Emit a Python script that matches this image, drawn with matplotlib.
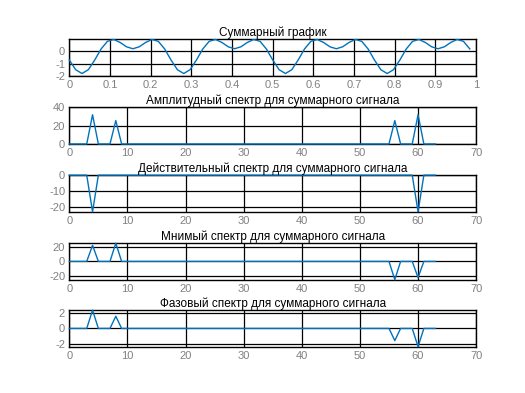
import numpy as np
import matplotlib
matplotlib.use("Agg")
import matplotlib.pyplot as plt

plt.rcParams['font.family'] = ['Liberation Sans', 'DejaVu Sans']
plt.rcParams['axes.unicode_minus'] = False

# time axis: 64 samples over one second
t = np.arange(64) / 64
signal = [
    -0.7071, -1.4896, -1.8, -1.4896, -0.7071, 0.1830, 0.8, 0.9484,
    0.7071, 0.3582, 0.2, 0.3582, 0.7071, 0.9484, 0.8, 0.1830,
    -0.7071, -1.4896, -1.8, -1.4896, -0.7071, 0.1830, 0.8, 0.9484,
    0.7071, 0.3582, 0.2, 0.3582, 0.7071, 0.9484, 0.8, 0.1830,
    -0.7071, -1.4896, -1.8, -1.4896, -0.7071, 0.1830, 0.8, 0.9484,
    0.7071, 0.3582, 0.2, 0.3582, 0.7071, 0.9484, 0.8, 0.1830,
    -0.7071, -1.4896, -1.8, -1.4896, -0.7071, 0.1830, 0.8, 0.9484,
    0.7071, 0.3582, 0.2, 0.3582, 0.7071, 0.9484, 0.8, 0.1830,
]

k = np.arange(64)
amp = [
    0, 0, 0, 0, 32, 0, 0, 0, 25.6, 0, 0, 0, 0, 0, 0, 0,
    0, 0, 0, 0, 0, 0, 0, 0, 0, 0, 0, 0, 0, 0, 0, 0,
    0, 0, 0, 0, 0, 0, 0, 0, 0, 0, 0, 0, 0, 0, 0, 0,
    0, 0, 0, 0, 0, 0, 0, 0, 25.6, 0, 0, 0, 32, 0, 0, 0,
]
re = [
    0, 0, 0, 0, -22.63, 0, 0, 0, 0, 0, 0, 0, 0, 0, 0, 0,
    0, 0, 0, 0, 0, 0, 0, 0, 0, 0, 0, 0, 0, 0, 0, 0,
    0, 0, 0, 0, 0, 0, 0, 0, 0, 0, 0, 0, 0, 0, 0, 0,
    0, 0, 0, 0, 0, 0, 0, 0, 0, 0, 0, 0, -22.63, 0, 0, 0,
]
im = [
    0, 0, 0, 0, 22.63, 0, 0, 0, 25.6, 0, 0, 0, 0, 0, 0, 0,
    0, 0, 0, 0, 0, 0, 0, 0, 0, 0, 0, 0, 0, 0, 0, 0,
    0, 0, 0, 0, 0, 0, 0, 0, 0, 0, 0, 0, 0, 0, 0, 0,
    0, 0, 0, 0, 0, 0, 0, 0, -25.6, 0, 0, 0, -22.63, 0, 0, 0,
]
phase = [
    0, 0, 0, 0, 2.356, 0, 0, 0, 1.571, 0, 0, 0, 0, 0, 0, 0,
    0, 0, 0, 0, 0, 0, 0, 0, 0, 0, 0, 0, 0, 0, 0, 0,
    0, 0, 0, 0, 0, 0, 0, 0, 0, 0, 0, 0, 0, 0, 0, 0,
    0, 0, 0, 0, 0, 0, 0, 0, -1.571, 0, 0, 0, -2.356, 0, 0, 0,
]

titles = [
    "Суммарный график",
    "Амплитудный спектр для суммарного сигнала",
    "Действительный спектр для суммарного сигнала",
    "Мнимый спектр для суммарного сигнала",
    "Фазовый спектр для суммарного сигнала",
]

fig = plt.figure(figsize=(5.25, 3.93), dpi=100)
bottoms = [0.8066, 0.6336, 0.4613, 0.2883, 0.1178]

panels = [
    (t, signal, (0, 1), (-2, 0.95), [-2, -1, 0], np.arange(0, 1.01, 0.1)),
    (k, amp, (0, 70), (0, 40), [0, 20, 40], np.arange(0, 71, 10)),
    (k, re, (0, 70), (-22.63, 0), [-20, -10, 0], np.arange(0, 71, 10)),
    (k, im, (0, 70), (-25.6, 25.6), [-20, 0, 20], np.arange(0, 71, 10)),
    (k, phase, (0, 70), (-2.356, 2.356), [-2, 0, 2], np.arange(0, 71, 10)),
]

for i, (x, y, xl, yl, yt, xt) in enumerate(panels):
    ax = fig.add_axes([0.132, bottoms[i], 0.775, 0.0930])
    ax.plot(x, y, color='#0072BD', lw=1.0, clip_on=False, zorder=3)
    ax.set_xlim(*xl)
    ax.set_ylim(*yl)
    ax.set_xticks(xt)
    ax.set_yticks(yt)
    if i == 0:
        ax.set_xticklabels(["0", "0.1", "0.2", "0.3", "0.4", "0.5",
                            "0.6", "0.7", "0.8", "0.9", "1"])
    ax.grid(True, color='black', lw=0.9)
    ax.set_axisbelow(True)
    ax.tick_params(length=0, labelsize=8, labelcolor='#808080', pad=3)
    for s in ax.spines.values():
        s.set_color('black')
        s.set_linewidth(1.0)
    ax.set_title(titles[i], fontsize=8.5, pad=2, color='black')

plt.savefig("out.png", dpi=100)
